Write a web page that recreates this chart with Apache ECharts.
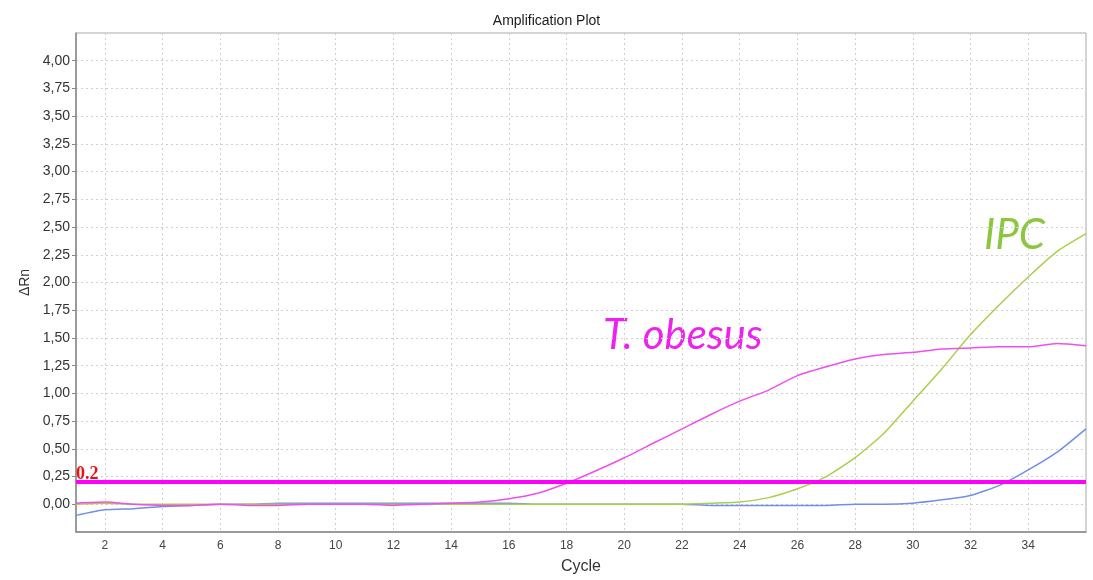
<!DOCTYPE html>
<html>
<head>
<meta charset="utf-8">
<script src="https://cdn.jsdelivr.net/npm/echarts@6/dist/echarts.min.js"></script>
<style>html,body{margin:0;padding:0;background:#fff}#c{width:1093px;height:580px}</style>
</head>
<body>
<div id="c"></div>
<script>
const cycles = [1,2,3,4,5,6,7,8,9,10,11,12,13,14,15,16,17,18,19,20,21,22,23,24,25,26,27,28,29,30,31,32,33,34,35,36];
const tObesus = [0.01,0.02,0.00,-0.01,-0.01,0.00,-0.01,-0.01,0.00,0.00,0.00,-0.01,0.00,0.01,0.02,0.05,0.10,0.19,0.30,0.42,0.55,0.68,0.81,0.93,1.03,1.16,1.24,1.31,1.35,1.37,1.40,1.41,1.42,1.42,1.45,1.43];
const ipc = [0.00,0.01,0.00,0.00,0.00,0.00,0.00,0.00,0.00,0.00,0.00,0.00,0.00,0.00,0.00,0.00,0.00,0.00,0.00,0.00,0.00,0.00,0.01,0.02,0.06,0.14,0.25,0.42,0.64,0.93,1.22,1.53,1.80,2.05,2.28,2.44];
const ntc = [-0.10,-0.05,-0.04,-0.02,-0.01,0.00,0.00,0.01,0.01,0.01,0.01,0.01,0.01,0.01,0.01,0.01,0.00,0.00,0.00,0.00,0.00,0.00,-0.01,-0.01,-0.01,-0.01,-0.01,0.00,0.00,0.01,0.04,0.08,0.17,0.31,0.47,0.68];
const threshold = 0.2;
const xTickLabels = [2,4,6,8,10,12,14,16,18,20,22,24,26,28,30,32,34];
const yTickValues = [0,0.25,0.5,0.75,1,1.25,1.5,1.75,2,2.25,2.5,2.75,3,3.25,3.5,3.75,4];
const yRange = {min: -0.25, max: 4.25, step: 0.25};

const chart = echarts.init(document.getElementById('c'), null, {renderer: 'canvas'});
const fmtY = v => (v < -0.001 || v > 4.001) ? '' : v.toFixed(2).replace('.', ',');
const isEven = (idx, val) => Number(val) % 2 === 0;

chart.setOption({
  animation: false,
  title: {
    text: 'Amplification Plot', left: 'center', top: 9,
    textStyle: {fontFamily: 'Liberation Sans, Arial', fontSize: 14, fontWeight: 'normal', color: '#1a1a1a'}
  },
  grid: {left: 76, right: 7, top: 33, bottom: 48, show: true, borderColor: '#aaa', borderWidth: 1},
  xAxis: {
    type: 'category', data: cycles.map(String), boundaryGap: false,
    name: 'Cycle', nameLocation: 'middle', nameGap: 27,
    nameTextStyle: {fontFamily: 'Liberation Sans, Arial', fontSize: 16, color: '#333'},
    axisLine: {onZero: false, lineStyle: {color: '#888', width: 1.5}},
    axisTick: {show: false},
    axisLabel: {
      interval: (idx, val) => xTickLabels.includes(Number(val)),
      fontFamily: 'Liberation Sans, Arial', fontSize: 12, color: '#444', margin: 8
    },
    splitLine: {show: true, interval: isEven, lineStyle: {color: '#d0d0d0', type: [2, 3], width: 1}}
  },
  yAxis: {
    type: 'value', min: yRange.min, max: yRange.max, interval: yRange.step,
    name: 'ΔRn', nameLocation: 'middle', nameGap: 41, nameRotate: 90,
    nameTextStyle: {fontFamily: 'Liberation Sans, Arial', fontSize: 14, color: '#333'},
    axisLine: {show: true, onZero: false, lineStyle: {color: '#888', width: 1.5}},
    axisTick: {show: true, length: 4, customValues: yTickValues, lineStyle: {color: '#888'}},
    axisLabel: {formatter: fmtY, fontFamily: 'Liberation Sans, Arial', fontSize: 14, color: '#333', margin: 6},
    splitLine: {show: true, lineStyle: {color: '#d0d0d0', type: [2, 3], width: 1}}
  },
  series: [
    {
      name: 'NTC', type: 'line', data: ntc, showSymbol: false, smooth: 0.2,
      lineStyle: {color: '#6f8fea', width: 1.5}, z: 2
    },
    {
      name: 'IPC', type: 'line', data: ipc, showSymbol: false, smooth: 0.2,
      lineStyle: {color: '#a9cf4a', width: 1.5}, z: 3
    },
    {
      name: 'T. obesus', type: 'line', data: tObesus, showSymbol: false, smooth: 0.2,
      lineStyle: {color: '#ef4ef0', width: 1.5}, z: 4,
      markLine: {
        silent: true, symbol: 'none',
        lineStyle: {color: '#ff00ff', width: 4, type: 'solid'},
        label: {
          show: true, position: 'insideStartTop', formatter: String(threshold), distance: [0, -1],
          color: '#ee1111', fontFamily: 'Liberation Serif, Times New Roman', fontWeight: 'bold', fontSize: 18
        },
        data: [{yAxis: threshold}]
      }
    }
  ],
  graphic: [
    {type: 'text', left: 603, top: 314, style: {text: 'T. obesus', fill: '#ee22ee', font: 'italic 42px Lato, "Open Sans", sans-serif'}},
    {type: 'text', left: 984, top: 214, style: {text: 'IPC', fill: '#8cc63f', font: 'italic 42px Lato, "Open Sans", sans-serif'}}
  ]
});
</script>
</body>
</html>
